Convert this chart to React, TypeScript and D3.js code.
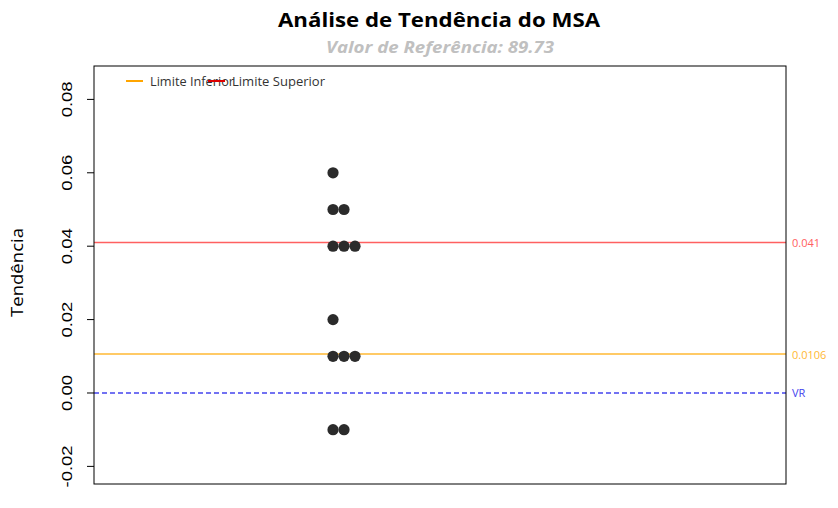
import React from "react";
import * as d3 from "d3";

const values = [0.06, 0.05, 0.05, 0.04, 0.04, 0.04, 0.02, 0.01, 0.01, 0.01, -0.01, -0.01];
const yTicks = [-0.02, 0.0, 0.02, 0.04, 0.06, 0.08];
const refLines = [
  { name: "Limite Superior", value: 0.041, label: "0.041", color: "#ff6060", dash: "" },
  { name: "Limite Inferior", value: 0.0106, label: "0.0106", color: "#ffb833", dash: "" },
  { name: "VR", value: 0, label: "VR", color: "#4444ee", dash: "5,3" },
];
const legendItems = [
  { name: "Limite Inferior", color: "#ffa500", len: 84 },
  { name: "Limite Superior", color: "#dd0000", len: 93 },
];

const W = 838, H = 508;
const L = 94, R = 786, T = 66, B = 484;

export default function App() {
  const y = d3.scaleLinear().domain([-0.0248, 0.0891]).range([B, T]);
  const x = d3.scaleLinear().domain([0, 1]).range([L, R]);
  const groupX = 0.3454;
  const step = 11;
  const counts = new Map<number, number>();
  const pts = values.map((v) => {
    const k = Math.round(v * 1000);
    const i = counts.get(k) || 0;
    counts.set(k, i + 1);
    return { v, i };
  });
  const fontAxis = "'Liberation Sans', Arial, sans-serif";
  const fontTitle = "'Open Sans', 'Noto Sans', sans-serif";
  const fmt = (t: number) => d3.format(".2f")(t).replace("\u2212", "-");
  return (
    <svg width={W} height={H} style={{ position: "absolute", left: 0, top: 0, background: "#fff" }}>
      <rect x={0} y={0} width={W} height={H} fill="#fff" />
      <text x={439} y={27} textAnchor="middle" fontFamily={fontTitle} fontWeight="bold" fontSize={20} fill="#000"
        textLength={322} lengthAdjust="spacingAndGlyphs">
        Análise de Tendência do MSA
      </text>
      <text x={440} y={53} textAnchor="middle" fontFamily={fontTitle} fontWeight="bold" fontStyle="italic" fontSize={16} fill="#c0c0c0"
        textLength={228} lengthAdjust="spacingAndGlyphs">
        Valor de Referência: 89.73
      </text>
      {refLines.map((r) => (
        <g key={r.name}>
          <line x1={L} x2={R} y1={y(r.value)} y2={y(r.value)} stroke={r.color} strokeWidth={1.5} strokeDasharray={r.dash || undefined} />
          <text x={R + 6} y={y(r.value) + 4.5} fontFamily={fontTitle} fontSize={11} fill={r.color}>
            {r.label}
          </text>
        </g>
      ))}
      <rect x={L} y={T} width={R - L} height={B - T} fill="none" stroke="#000" strokeWidth={1} />
      {yTicks.map((t) => (
        <g key={t}>
          <line x1={L - 7} x2={L} y1={y(t)} y2={y(t)} stroke="#000" />
          <text
            transform={`translate(${L - 22},${y(t)}) rotate(-90) scale(1.23,1)`}
            textAnchor="middle"
            fontFamily={fontAxis}
            fontSize={15}
            fill="#000"
          >
            {fmt(t)}
          </text>
        </g>
      ))}
      <text transform={`translate(23,272.5) rotate(-90)`} textAnchor="middle" fontFamily={fontTitle} fontSize={15.5} fill="#000"
        textLength={89} lengthAdjust="spacingAndGlyphs">
        Tendência
      </text>
      {pts.map((p, k) => (
        <circle key={k} cx={x(groupX) + p.i * step} cy={y(p.v)} r={5.6} fill="#2b2b2b" />
      ))}
      {legendItems.map((li, i) => (
        <g key={li.name}>
          <line x1={126 + i * 82} x2={143 + i * 82} y1={81} y2={81} stroke={li.color} strokeWidth={2} />
          <text x={150 + i * 82} y={85.5} fontFamily={fontTitle} fontSize={12} fill="#333"
            textLength={li.len} lengthAdjust="spacingAndGlyphs">
            {li.name}
          </text>
        </g>
      ))}
    </svg>
  );
}
